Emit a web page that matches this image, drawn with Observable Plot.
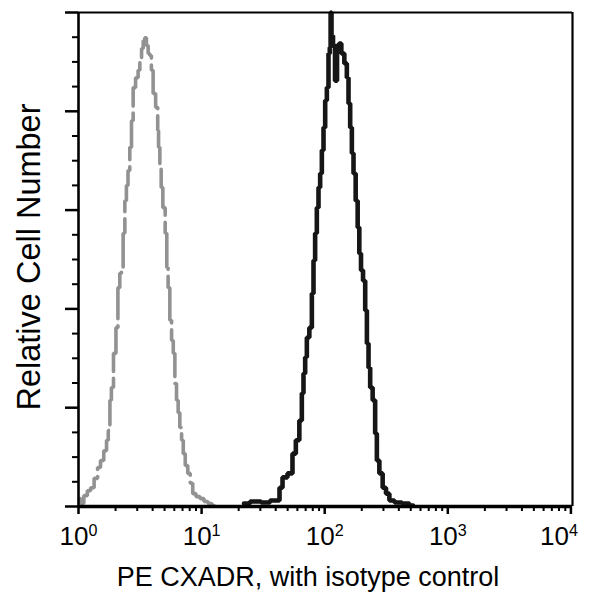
<!DOCTYPE html>
<html>
<head>
<meta charset="utf-8">
<script src="https://cdn.jsdelivr.net/npm/d3@7"></script>
<script src="https://cdn.jsdelivr.net/npm/@observablehq/plot@0.6"></script>
<style>
  html, body { margin: 0; padding: 0; background: #fff; }
  #chart svg { display: block; }
</style>
</head>
<body>
<div id="chart"></div>
<script>
// Isotype control (grey dashed histogram)
const isotypeX = [1.02,1.07,1.14,1.22,1.29,1.39,1.47,1.55,1.66,1.72,1.77,1.83,1.87,1.98,2.05,2.13,2.20,2.27,2.34,2.42,2.48,2.57,2.65,2.74,2.82,3.00,3.10,3.20,3.31,3.40,3.51,3.62,3.74,3.84,3.98,4.10,4.37,4.43,4.51,4.65,4.74,4.95,5.17,5.26,5.43,5.61,5.80,5.97,6.16,6.35,6.55,6.76,7.00,7.19,7.54,7.90,8.28,8.67,9.35,10.07,10.86,11.70,12.6];
const isotypeY = [1.6,0.6,2.2,3.2,3.8,5.7,7.9,9.3,11.3,13.4,15.4,21.5,24.1,31.0,36.2,44.3,47.2,48.4,55.3,61.9,65.0,68.0,72.7,78.1,84.8,86.8,88.3,90.3,92.7,94.3,94.9,93.3,91.7,91.3,88.3,83.6,80.8,76.1,72.7,69.4,64.6,60.5,55.3,48.4,44.3,37.7,33.6,31.0,24.9,21.5,19.0,16.0,13.4,10.7,8.3,6.7,4.7,2.6,2.0,1.6,1.0,0.6,0.2];

// PE CXADR (black solid histogram)
const cxadrX = [22.1,27.7,33.4,38.7,41.7,44.2,46.7,53.2,56.3,60.3,64.2,66.2,68.3,70.5,72.7,77.4,79.9,82.3,84.9,87.7,90.4,93.3,96.3,99.3,102.5,105.7,109.0,110.9,112.5,114.6,119.0,123.6,128.3,133.1,140.0,148.9,153.7,158.5,163.6,168.8,174.0,183.0,187.5,194.6,199.8,209.9,216.7,223.6,230.4,237.8,252.8,261.0,269.5,286.6,304.9,325.0,345.8,393.8,457.2,521];
const cxadrY = [0.6,1.0,0.8,1.2,1.2,3.8,5.9,6.7,10.7,13.4,17.4,22.9,26.9,30.2,34.2,36.2,43.1,49.8,55.3,60.5,64.6,67.4,72.1,76.7,82.2,84.8,91.7,92.9,100,95.3,93.3,86.2,93.3,93.7,91.7,89.7,86.8,81.6,76.7,71.5,67.4,61.9,56.5,51.2,47.8,45.7,39.7,33.0,28.1,24.1,21.5,14.8,9.3,6.7,3.8,2.6,1.2,0.8,0.6,0.2];

// Axis ticks and labels
const xTicks = [1, 10, 100, 1000, 10000];
const xTickLabels = ["10^0", "10^1", "10^2", "10^3", "10^4"];
const yMajorTicks = [0, 20, 40, 60, 80, 100];
const xTitle = "PE CXADR, with isotype control";
const yTitle = "Relative Cell Number";

const xDomain = [1, 10300];
const yDomain = [0, 100];

const xMinorTicks = [];
for (const d of [1, 10, 100, 1000]) for (let k = 2; k <= 9; k++) xMinorTicks.push(d * k);
const yMinorTicks = d3.range(5, 100, 5).filter(v => v % 20 !== 0);

const isotype = isotypeX.map((x, i) => ({x, y: isotypeY[i]}));
const cxadr = cxadrX.map((x, i) => ({x, y: cxadrY[i]}));

const font = "'Liberation Sans', Arial, Helvetica, sans-serif";

const plot = Plot.plot({
  width: 591,
  height: 598,
  marginLeft: 78,
  marginRight: 19,
  marginTop: 12,
  marginBottom: 92,
  style: {fontFamily: font, fontSize: "26px", color: "#000", background: "#fff"},
  x: {type: "log", domain: xDomain},
  y: {domain: yDomain},
  marks: [
    Plot.line(isotype, {x: "x", y: "y", curve: "step", stroke: "#929292", strokeWidth: 3.6, strokeDasharray: "50,7", strokeLinejoin: "miter"}),
    Plot.line(cxadr, {x: "x", y: "y", curve: "step", stroke: "#161616", strokeWidth: 4.6, strokeLinejoin: "miter"}),
    Plot.axisX(xMinorTicks, {tickSize: 5, tickFormat: () => "", strokeWidth: 2, label: null}),
    Plot.axisX(xTicks, {tickSize: 8, tickPadding: 12, strokeWidth: 2.5, label: null, fontSize: 26,
      tickFormat: d => xTickLabels[xTicks.indexOf(d)]}),
    Plot.axisY(yMinorTicks, {tickSize: 6, tickFormat: () => "", strokeWidth: 2, label: null}),
    Plot.axisY(yMajorTicks, {tickSize: 13, tickFormat: () => "", strokeWidth: 2.5, label: null}),
    Plot.ruleX([xDomain[0]], {stroke: "#000", strokeWidth: 2.6}),
    Plot.ruleX([xDomain[1]], {stroke: "#000", strokeWidth: 2.2}),
    Plot.ruleY([yDomain[1]], {stroke: "#000", strokeWidth: 2}),
    Plot.ruleY([yDomain[0]], {stroke: "#000", strokeWidth: 3.5})
  ]
});

// superscript exponents in tick labels
const sel = d3.select(plot);
const labels = sel.selectAll('g[aria-label="x-axis tick label"] text');
labels.each(function() {
  const t = this.textContent;
  const parts = t.split("^");
  if (parts.length !== 2) return;
  this.textContent = parts[0];
  d3.select(this).append("tspan").attr("dy", "-0.55em").attr("font-size", "0.62em").text(parts[1]);
});
labels.filter(function() { return this.textContent.startsWith("104"); }).attr("dx", -12);

// axis titles
sel.append("text")
  .attr("x", 308).attr("y", 586)
  .attr("text-anchor", "middle")
  .attr("font-family", font).attr("font-size", 27).attr("fill", "#000")
  .text(xTitle);
sel.append("text")
  .attr("transform", "translate(40,257) rotate(-90)")
  .attr("text-anchor", "middle")
  .attr("font-family", font).attr("font-size", 32.5).attr("fill", "#000")
  .text(yTitle);

document.getElementById("chart").appendChild(plot);
</script>
</body>
</html>
